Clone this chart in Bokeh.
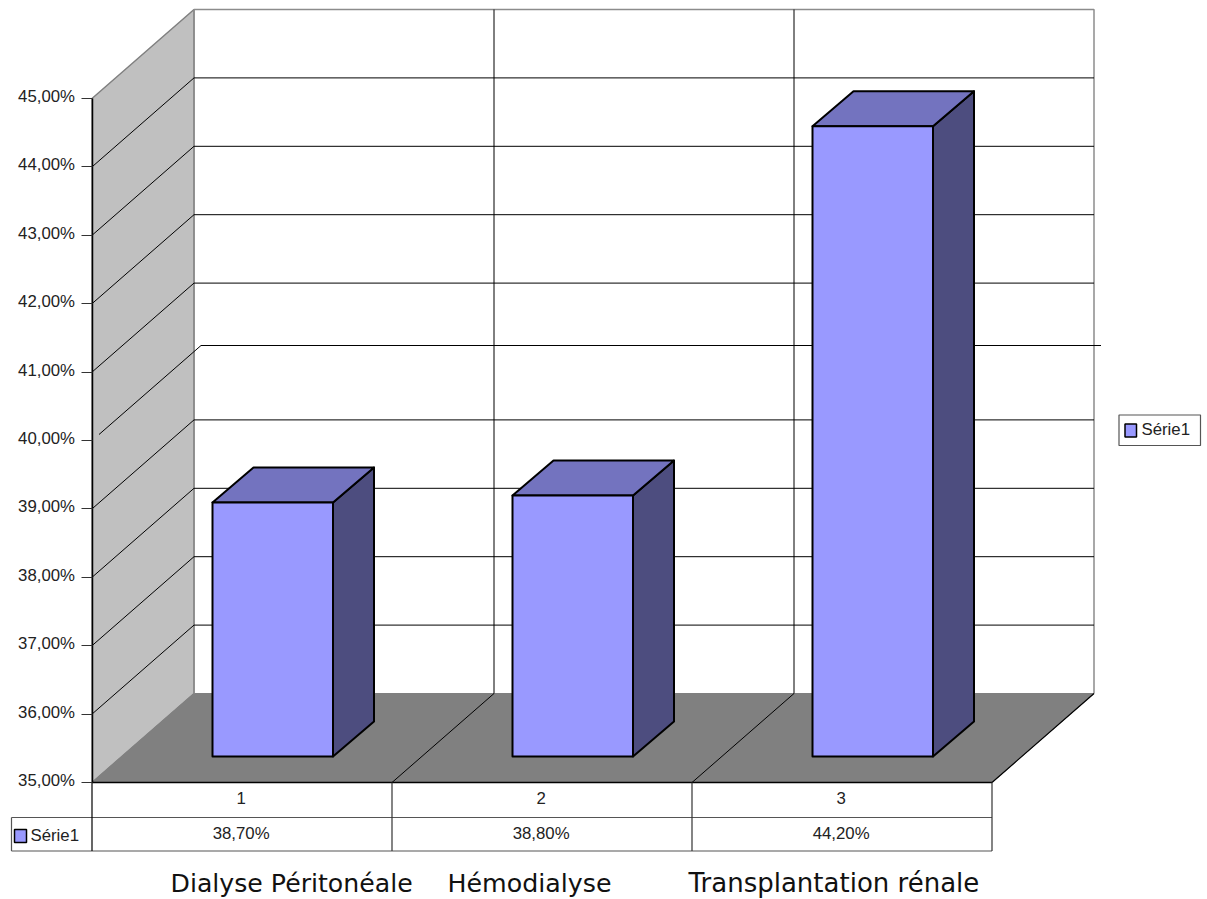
from bokeh.plotting import figure
from bokeh.models import FixedTicker, Range1d
from bokeh.core.properties import value
from bokeh.embed import file_html
from bokeh.resources import INLINE

# ---- data ----
categories = ["1", "2", "3"]
category_names = ["Dialyse Péritonéale", "Hémodialyse", "Transplantation rénale"]
series_name = "Série1"
series_values = [38.7, 38.8, 44.2]
value_labels = ["38,70%", "38,80%", "44,20%"]
y_ticks = [35, 36, 37, 38, 39, 40, 41, 42, 43, 44, 45]
y_tick_labels = ["35,00%", "36,00%", "37,00%", "38,00%", "39,00%", "40,00%",
                 "41,00%", "42,00%", "43,00%", "44,00%", "45,00%"]

# ---- layout: pixel geometry of the reference ----
W, H = 1205, 898
OX, OY = 91.5, 782.0        # front-left corner of the floor (page pixels)
CAT_PX = 300.0              # pixels per category
VAL_PX = 68.4               # pixels per percent
Y_MIN, Y_MAX = y_ticks[0], y_ticks[-1]
DX, DY = 102.0, 89.0        # 3-D depth offset of the back wall
FONT = "Liberation Sans"
FS = "16.8px"
TXT = "#222222"


def X(px):
    return (px - OX) / CAT_PX


def Y(px):
    return Y_MIN + (OY - px) / VAL_PX


p = figure(width=W, height=H, output_backend="svg", toolbar_location=None,
           x_axis_location=None, y_axis_location="left",
           x_range=Range1d(X(0), X(W)), y_range=Range1d(Y(H), Y(0)),
           min_border=0, min_border_left=0, min_border_right=0,
           min_border_top=0, min_border_bottom=0,
           outline_line_color=None, background_fill_color="white", border_fill_color="white")
p.grid.visible = False

n = len(categories)
dx, dy = DX / CAT_PX, DY / VAL_PX
x_end = float(n)

# side wall and floor
p.patch([0, dx, dx, 0], [Y_MIN, Y_MIN + dy, Y_MAX + dy, Y_MAX],
        fill_color="#C0C0C0", line_color="#808080", line_width=1.5)
p.patch([0, dx, x_end + dx, x_end], [Y_MIN, Y_MIN + dy, Y_MIN + dy, Y_MIN],
        fill_color="#808080", line_color="#808080", line_width=1)

# back wall border
p.line([dx, dx, x_end + dx, x_end + dx], [Y_MIN + dy, Y_MAX + dy, Y_MAX + dy, Y_MIN + dy],
       line_color="#8c8c8c", line_width=1.5)
p.line([x_end, x_end + dx], [Y_MIN, Y_MIN + dy], line_color="black", line_width=1.2)

# gridlines (the 40 % one is a slightly displaced line in the reference)
sx, sy = 7 / CAT_PX, 6 / VAL_PX
for t in y_ticks[1:-1]:
    ox, oy = (sx, sy) if t == 40 else (0, 0)
    p.line([ox, dx + ox, x_end + dx + ox], [t + oy, t + dy + oy, t + dy + oy],
           line_color="black", line_width=1)

# category separators on wall and floor
for i in range(1, n):
    p.line([i, i + dx, i + dx], [Y_MIN, Y_MIN + dy, Y_MAX + dy], line_color="black", line_width=1)

# 3-D bars
base_gap = 26 / VAL_PX
top_gap = 27 / VAL_PX
bar_left, bar_w = 120.5 / CAT_PX, 120.5 / CAT_PX
bdx, bdy = 41 / CAT_PX, 35 / VAL_PX
for i, v in enumerate(series_values):
    x0, x1 = i + bar_left, i + bar_left + bar_w
    b, t = Y_MIN + base_gap, v + top_gap
    p.patch([x1, x1 + bdx, x1 + bdx, x1], [b, b + bdy, t + bdy, t],
            fill_color="#4D4D7F", line_color="black", line_width=2, line_join="round")
    p.patch([x0, x1, x1 + bdx, x0 + bdx], [t, t, t + bdy, t + bdy],
            fill_color="#7373BF", line_color="black", line_width=2, line_join="round")
    p.patch([x0, x1, x1, x0], [b, b, t, t],
            fill_color="#9999FF", line_color="black", line_width=2, line_join="round")

# data table
row1, row2 = Y(817), Y(850.5)
left = X(11)
p.line([0, x_end], [Y_MIN, Y_MIN], line_color="black", line_width=1.5)
p.line([left, x_end], [row1, row1], line_color="#555555", line_width=1.2)
p.line([left, x_end], [row2, row2], line_color="#555555", line_width=1.2)
p.line([left, left], [row1, row2], line_color="#555555", line_width=1.2)
p.line([0, 0], [Y_MIN, row2], line_color="black", line_width=1.2)
for i in range(1, n + 1):
    p.line([i, i], [Y_MIN, row2], line_color="#333333", line_width=1.2)

centers = [i + 0.497 for i in range(n)]
p.text(centers, [Y(797.5)] * n, text=categories, text_font=value(FONT), text_font_size=FS,
       text_align="center", text_baseline="middle", text_color=TXT)
p.text(centers, [Y(833)] * n, text=value_labels, text_font=value(FONT), text_font_size=FS,
       text_align="center", text_baseline="middle", text_color=TXT)

# table legend key
p.quad(left=[X(14)], right=[X(26)], bottom=[Y(842)], top=[Y(829)],
       fill_color="#9999FF", line_color="black", line_width=1.5)
p.text([X(30)], [Y(835)], text=[series_name], text_font=value(FONT), text_font_size=FS,
       text_align="left", text_baseline="middle", text_color=TXT)

# legend box
p.quad(left=[X(1118.5)], right=[X(1200)], bottom=[Y(445)], top=[Y(414.5)],
       fill_color="white", line_color="#555555", line_width=1.2)
p.quad(left=[X(1124.5)], right=[X(1136)], bottom=[Y(436.5)], top=[Y(423.5)],
       fill_color="#9999FF", line_color="black", line_width=1.5)
p.text([X(1141)], [Y(429)], text=[series_name], text_font=value(FONT), text_font_size=FS,
       text_align="left", text_baseline="middle", text_color=TXT)

# category names under the table
name_x = [170, 447, 688]
name_sizes = ["25.2px", "25.3px", "26px"]
for nm, px, fs in zip(category_names, name_x, name_sizes):
    p.text([X(px)], [Y(882.5)], text=[nm], text_font=value("DejaVu Sans"),
           text_font_size=fs, text_align="left", text_baseline="middle",
           text_color="#111111")

# value axis: line and ticks from the axis, labels placed 2 px above the ticks as in the reference
ax = p.yaxis[0]
ax.fixed_location = 0
ax.bounds = (Y_MIN, Y_MAX)
ax.ticker = FixedTicker(ticks=y_ticks)
ax.major_label_overrides = {t: "" for t in y_ticks}
ax.minor_tick_line_color = None
ax.major_tick_in = 0
ax.major_tick_out = 11
ax.major_tick_line_color = "#333333"
ax.major_tick_line_width = 1.2
ax.axis_line_color = "black"
ax.axis_line_width = 1.5
p.text([X(74.5)] * len(y_ticks), [t + 2 / VAL_PX for t in y_ticks], text=y_tick_labels,
       text_font=value(FONT), text_font_size=FS, text_align="right", text_baseline="middle",
       text_color=TXT)

open("out.html", "w").write(file_html(p, INLINE))
